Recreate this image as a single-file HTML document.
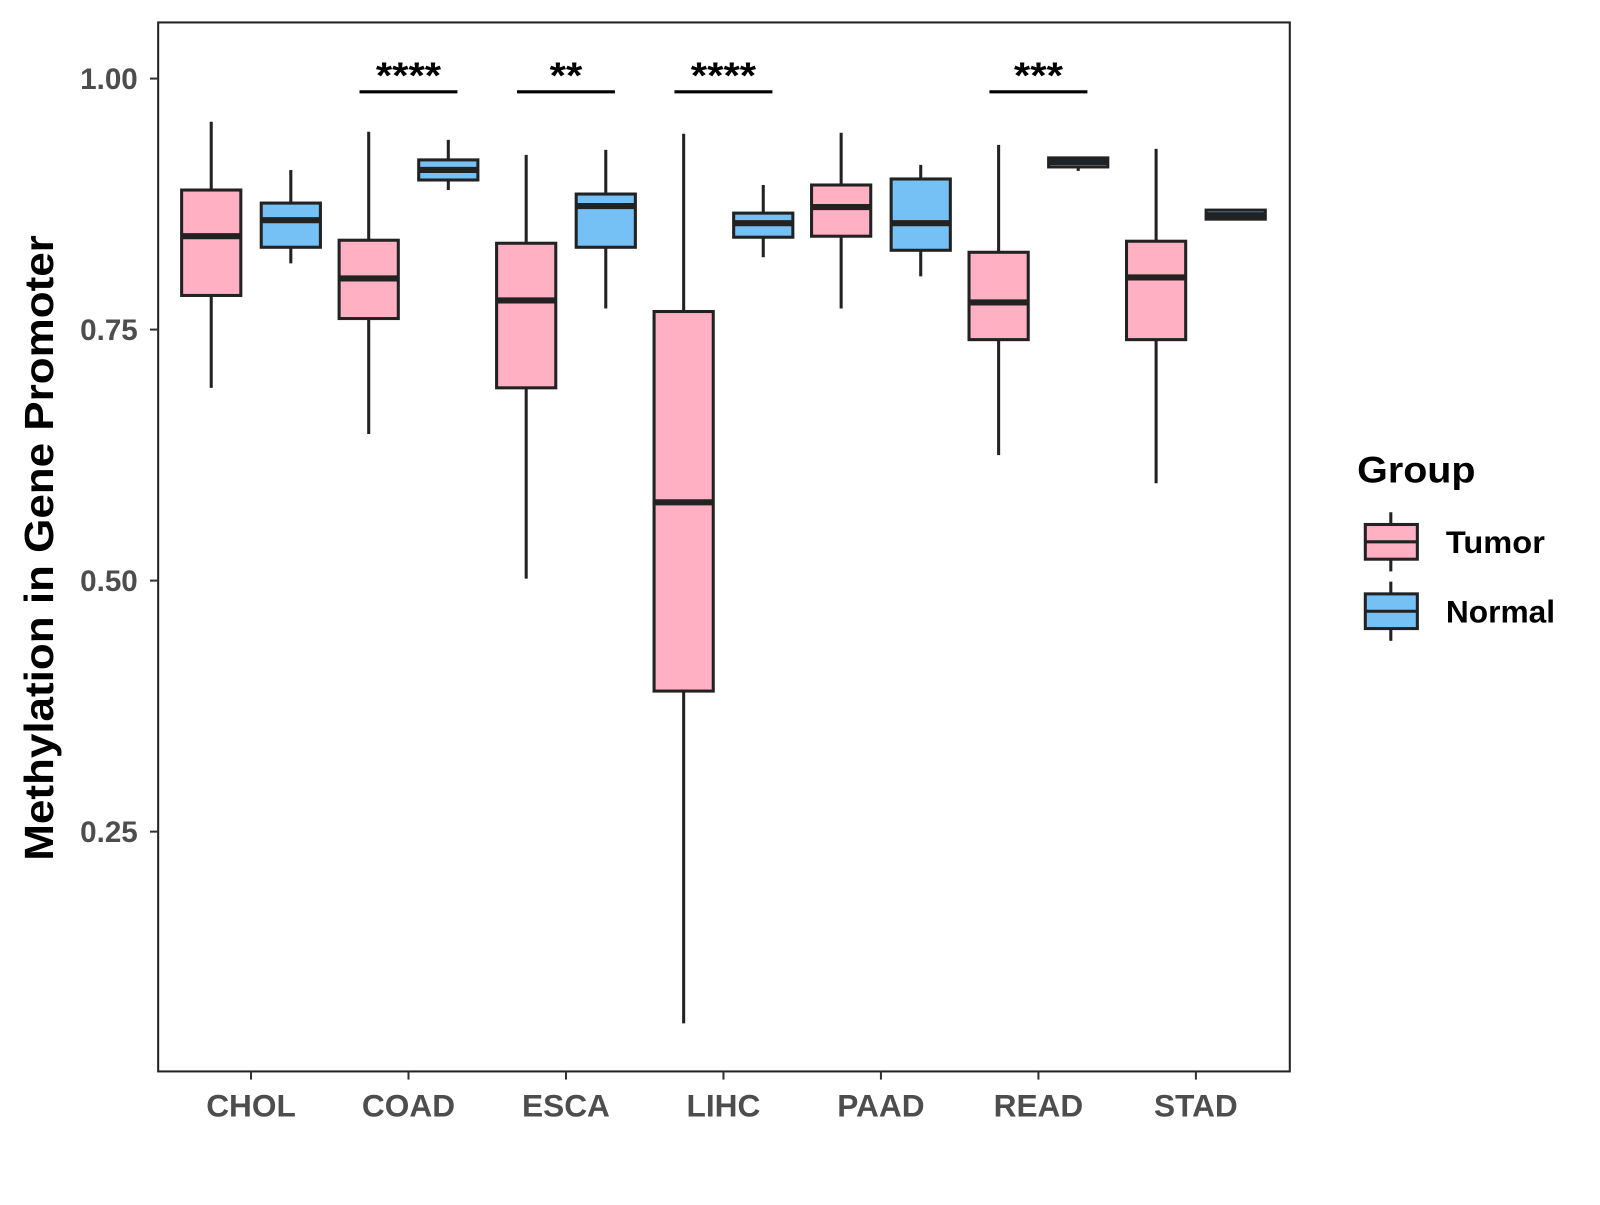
<!DOCTYPE html>
<html><head><meta charset="utf-8"><style>
body{margin:0;background:#fff}
text{font-family:"Liberation Sans",Arial,sans-serif;font-weight:bold}
</style></head><body>
<svg id="chart" width="1600" height="1200" viewBox="0 0 1568 1176" preserveAspectRatio="none" xmlns="http://www.w3.org/2000/svg">
<rect width="1568" height="1176" fill="#fff"/>
<g id="plot"></g>
<text transform="translate(52,537) rotate(-90)" text-anchor="middle" font-size="40" textLength="613" lengthAdjust="spacingAndGlyphs" fill="#000">Methylation in Gene Promoter</text>
<g>
<text x="1330" y="473" font-size="36" textLength="116" lengthAdjust="spacingAndGlyphs" fill="#000">Group</text>
<g>
<line x1="1363" y1="502" x2="1363" y2="560" stroke="#222" stroke-width="3"/>
<rect x="1338" y="514" width="51" height="34" fill="#FFB0C3" stroke="#222" stroke-width="3"/>
<line x1="1338" y1="531" x2="1389" y2="531" stroke="#222" stroke-width="3"/>
<text x="1417" y="542" font-size="31" textLength="97" lengthAdjust="spacingAndGlyphs" fill="#000">Tumor</text></g>
<g>
<line x1="1363" y1="570" x2="1363" y2="628" stroke="#222" stroke-width="3"/>
<rect x="1338" y="582" width="51" height="34" fill="#75C0F5" stroke="#222" stroke-width="3"/>
<line x1="1338" y1="599" x2="1389" y2="599" stroke="#222" stroke-width="3"/>
<text x="1417" y="610" font-size="31" textLength="107" lengthAdjust="spacingAndGlyphs" fill="#000">Normal</text></g>
</g>
</svg>
<script>
const categories=["CHOL","COAD","ESCA","LIHC","PAAD","READ","STAD"];
// [low whisker, Q1, median, Q3, high whisker]
const tumorStats=[[0.692,0.784,0.843,0.889,0.957],[0.646,0.761,0.801,0.839,0.947],[0.502,0.692,0.779,0.836,0.924],[0.059,0.390,0.578,0.768,0.945],[0.771,0.843,0.872,0.894,0.946],[0.625,0.740,0.777,0.827,0.934],[0.597,0.740,0.802,0.838,0.930]];
const normalStats=[[0.816,0.832,0.859,0.876,0.909],[0.889,0.899,0.909,0.919,0.939],[0.771,0.832,0.873,0.885,0.929],[0.822,0.842,0.856,0.866,0.894],[0.803,0.829,0.856,0.900,0.914],[0.908,0.912,0.917,0.921,0.921],[0.860,0.860,0.864,0.869,0.869]];
const sigLabels=["","****","**","****","","***",""];
const yTicks=[0.25,0.50,0.75,1.00];
const yTickLabels=["0.25","0.50","0.75","1.00"];
const NS="http://www.w3.org/2000/svg";
const L=155,R=1264,T=22,B=1050;
const y=v=>77+(1-v)*984;
const x=i=>246+i*154.33;
const g=document.getElementById('plot');
function mk(t,a,p){const e=document.createElementNS(NS,t);for(const k in a)e.setAttribute(k,a[k]);(p||g).appendChild(e);return e;}
const panel=mk('rect',{x:L,y:T,width:R-L,height:B-T,fill:'none',stroke:'#222','stroke-width':2});


yTicks.forEach((v,i)=>{
 mk('line',{x1:L-8,x2:L,y1:y(v),y2:y(v),stroke:'#333','stroke-width':2});
 const t=mk('text',{x:L-20,y:y(v)+10,'text-anchor':'end','font-size':29,fill:'#4d4d4d'});
 t.textContent=yTickLabels[i];
 
 
});
function box(s,cx,fill,name){
 const gg=mk('g',{});
 
 
 const w=58;
 mk('line',{x1:cx,x2:cx,y1:y(s[4]),y2:y(s[0]),stroke:'#222','stroke-width':3},gg);
 mk('rect',{x:cx-w/2,y:y(s[3]),width:w,height:Math.max(y(s[1])-y(s[3]),1),fill:fill,stroke:'#222','stroke-width':3},gg);
 mk('line',{x1:cx-w/2,x2:cx+w/2,y1:y(s[2]),y2:y(s[2]),stroke:'#222','stroke-width':6},gg);
}
categories.forEach((c,i)=>{
 const cx=x(i);
 mk('line',{x1:cx,x2:cx,y1:B,y2:B+8,stroke:'#333','stroke-width':2});
 const t=mk('text',{x:cx,y:1094,'text-anchor':'middle','font-size':31,fill:'#4d4d4d'});
 t.textContent=c;
 
 
 box(tumorStats[i],cx-39,'#FFB0C3','box-tumor-'+c.toLowerCase());
 box(normalStats[i],cx+39,'#75C0F5','box-normal-'+c.toLowerCase());
 if(sigLabels[i]){
  mk('line',{x1:cx-48,x2:cx+48,y1:90,y2:90,stroke:'#000','stroke-width':3});
  const s=mk('text',{x:cx,y:86,'text-anchor':'middle','font-size':36,textLength:sigLabels[i].length*16,lengthAdjust:'spacingAndGlyphs',fill:'#000'});
  s.textContent=sigLabels[i];
  
  
 }
});
</script>
</body></html>
